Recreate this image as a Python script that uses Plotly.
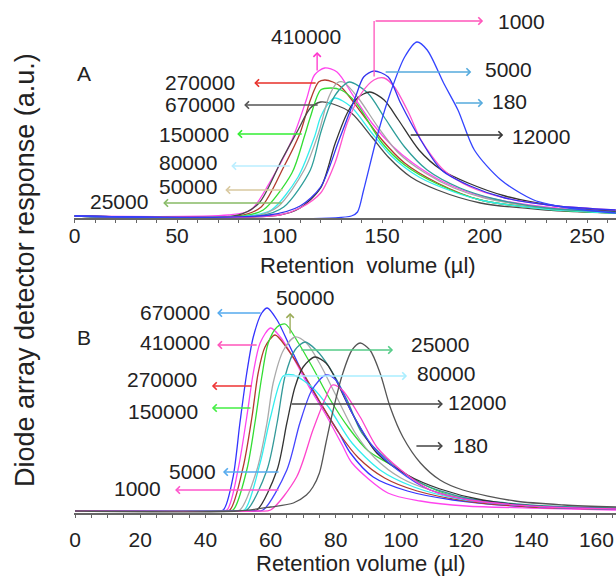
import plotly.graph_objects as go

# ---------------- Panel A data (retention volume in µl, response a.u.) ----------------
A_names = ["410000", "270000", "670000", "150000", "80000", "50000", "25000",
           "12000", "1000", "5000", "180"]
A_colors = ["#FF44EE", "#B23A2E", "#4A4A4A", "#33DD33", "#33EEEE", "#A8A8A8", "#2E9E9A",
            "#333333", "#FF55CC", "#3333EE", "#3344FF"]

A_x_410000 = [0, 75, 86, 95, 106, 113, 117, 122, 128, 136, 145, 155, 165, 180, 200, 230, 264]
A_y_410000 = [2, 3, 8, 35, 78, 118, 143, 150, 146, 122, 95, 72, 55, 36, 21, 11, 6]
A_x_270000 = [0, 80, 91, 102, 110, 115, 119, 122, 126, 130, 140, 150, 161, 177, 198, 230, 264]
A_y_270000 = [2, 2, 11, 51, 85, 118, 136, 138, 136, 131, 105, 78, 55, 35, 18, 9, 5]
A_x_670000 = [0, 80, 90, 101, 109, 115, 120, 126, 135, 145, 153, 164, 177, 198, 230, 264]
A_y_670000 = [2, 3, 15, 58, 88, 110, 116, 114, 105, 81, 61, 41, 28, 15, 8, 5]
A_x_150000 = [0, 82, 92, 106, 112, 115, 120, 125, 130, 137, 150, 161, 177, 198, 230, 264]
A_y_150000 = [2, 2, 8, 45, 81, 101, 128, 130, 128, 116, 75, 53, 34, 18, 9, 5]
A_x_80000 = [0, 85, 96, 109, 117, 120, 124, 127, 135, 145, 155, 168, 185, 200, 230, 264]
A_y_80000 = [2, 2, 8, 41, 81, 101, 115, 120, 111, 85, 61, 41, 26, 17, 9, 5]
A_x_50000 = [0, 88, 99, 112, 119, 124, 128, 131, 138, 148, 158, 171, 185, 200, 230, 264]
A_y_50000 = [2, 2, 11, 48, 85, 121, 135, 136, 121, 91, 65, 45, 30, 20, 10, 6]
A_x_25000 = [0, 90, 102, 115, 120, 125, 129, 134, 143, 151, 161, 172, 188, 205, 230, 264]
A_y_25000 = [2, 2, 11, 48, 85, 115, 128, 136, 125, 101, 71, 48, 30, 19, 10, 6]
A_x_12000 = [0, 100, 110, 120, 127, 133, 138, 144, 151, 158, 168, 179, 192, 210, 235, 264]
A_y_12000 = [2, 3, 10, 30, 74, 105, 120, 126, 118, 98, 68, 48, 35, 22, 12, 7]
A_x_1000 = [0, 100, 110, 120, 127, 133, 140, 146, 151, 156, 163, 169, 180, 193, 210, 235, 264]
A_y_1000 = [2, 3, 10, 25, 55, 95, 125, 138, 140, 131, 105, 78, 48, 31, 20, 12, 8]
A_x_5000 = [0, 95, 110, 120, 129, 137, 141, 146, 153, 159, 168, 179, 193, 210, 235, 264]
A_y_5000 = [2, 3, 12, 31, 78, 121, 141, 147, 141, 115, 81, 48, 32, 20, 12, 8]
A_x_180 = [0, 135, 138, 141, 148, 154, 161, 167, 172, 180, 187, 195, 208, 224, 241, 264]
A_y_180 = [2, 2, 6, 28, 85, 125, 161, 176, 168, 135, 108, 68, 38, 18, 10, 5]

A_x = [A_x_410000, A_x_270000, A_x_670000, A_x_150000, A_x_80000, A_x_50000, A_x_25000,
       A_x_12000, A_x_1000, A_x_5000, A_x_180]
A_y = [A_y_410000, A_y_270000, A_y_670000, A_y_150000, A_y_80000, A_y_50000, A_y_25000,
       A_y_12000, A_y_1000, A_y_5000, A_y_180]

# ---------------- Panel B data ----------------
B_names = ["670000", "410000", "270000", "150000", "50000", "25000", "80000",
           "12000", "5000", "1000", "180"]
B_colors = ["#3333FF", "#FF44EE", "#B23A2E", "#33DD33", "#AAAAAA", "#339999", "#33EEEE",
            "#333333", "#4444FF", "#FF44CC", "#555555"]

B_x_670000 = [0, 42, 45.5, 48.5, 50.6, 52.7, 54.7, 57.3, 59, 62, 66, 71, 76, 81, 84.5, 91.5, 102, 116, 140, 166]
B_y_670000 = [2, 2, 3, 36, 90, 140, 176, 200, 205, 193, 166, 133, 106, 80, 60, 36, 22, 13, 6, 4]
B_x_410000 = [0, 43, 46.6, 50, 52.7, 54.7, 56.8, 60, 63, 67, 72, 77, 82, 85, 96, 106, 120, 140, 166]
B_y_410000 = [2, 2, 3, 43, 96, 140, 170, 185, 176, 155, 125, 98, 68, 50, 20, 12, 7, 5, 3]
B_x_270000 = [0, 44, 47.5, 51.6, 54.3, 56.2, 58.3, 61.4, 65, 70, 75, 81, 87, 95, 105, 120, 140, 166]
B_y_270000 = [2, 2, 3, 46, 96, 140, 166, 178, 165, 140, 112, 80, 55, 35, 22, 12, 6, 4]
B_x_150000 = [0, 45, 48.5, 52.7, 55.2, 57.3, 59.3, 62, 64.5, 68, 73, 78, 84, 90, 96, 106, 116, 140, 166]
B_y_150000 = [2, 2, 3, 43, 90, 136, 170, 186, 189, 173, 145, 115, 85, 62, 50, 30, 17, 7, 4]
B_x_50000 = [0, 47, 50.6, 55.8, 58.9, 60.8, 64, 67.5, 71, 75, 80, 86, 92, 100, 110, 125, 145, 166]
B_y_50000 = [2, 2, 3, 43, 90, 130, 163, 176, 170, 150, 118, 80, 55, 35, 22, 12, 6, 4]
B_x_25000 = [0, 49, 52.7, 58.9, 62, 64.4, 67.5, 70.6, 74, 78, 83.5, 88, 96, 106, 120, 145, 166]
B_y_25000 = [2, 2, 3, 43, 90, 136, 163, 171, 163, 146, 113, 80, 53, 30, 15, 7, 5]
B_x_80000 = [0, 48, 52, 56.8, 60, 63.9, 67, 73, 78, 85, 93.6, 104, 118, 145, 166]
B_y_80000 = [2, 2, 3, 50, 96, 137, 138, 125, 105, 70, 43, 26, 14, 6, 4]
B_x_12000 = [0, 52, 55.8, 62, 65, 67.5, 70, 73.6, 77, 79, 85, 92.6, 102, 112, 125, 145, 166]
B_y_12000 = [2, 2, 3, 43, 90, 126, 146, 156, 150, 140, 100, 60, 38, 24, 13, 6, 4]
B_x_5000 = [0, 54, 57.7, 65, 69, 72.7, 77, 80, 85, 91.5, 99, 109, 121, 145, 166]
B_y_5000 = [2, 2, 3, 43, 90, 123, 138, 133, 100, 66, 43, 23, 13, 6, 4]
B_x_1000 = [0, 56, 60, 68, 73, 77, 79, 82, 87.5, 92.6, 100, 109, 121, 145, 166]
B_y_1000 = [2, 2, 3, 36, 83, 116, 128, 123, 96, 66, 43, 23, 13, 6, 4]
B_x_180 = [0, 50, 60, 67, 71, 73, 75, 77, 79, 82, 85, 87.5, 90.5, 93.6, 96.7, 100.6, 106, 112, 119, 135, 150, 166]
B_y_180 = [2, 2, 6, 10, 18, 26, 40, 70, 100, 138, 163, 170, 163, 140, 106, 76, 50, 33, 23, 12, 8, 6]

B_x = [B_x_670000, B_x_410000, B_x_270000, B_x_150000, B_x_50000, B_x_25000, B_x_80000,
       B_x_12000, B_x_5000, B_x_1000, B_x_180]
B_y = [B_y_670000, B_y_410000, B_y_270000, B_y_150000, B_y_50000, B_y_25000, B_y_80000,
       B_y_12000, B_y_5000, B_y_1000, B_y_180]

A_ticks = [0, 50, 100, 150, 200, 250]
B_ticks = [0, 20, 40, 60, 80, 100, 120, 140, 160]

# label annotations: (text, text_x, text_y, head_x, head_y, tail_x, tail_y, arrow colour)
A_labels = [
    ("410000", 112.9, 181, 118.3, 166, 118.3, 146, "#FF33CC"),
    ("270000", 61.3, 135, 87.6, 135, 118.3, 135, "#E8302A"),
    ("670000", 61.3, 113, 82.7, 113, 119.3, 113, "#555555"),
    ("150000", 58.3, 83, 79.3, 84, 111.5, 84, "#33EE33"),
    ("80000", 55.4, 55, 76.4, 52, 105.7, 52, "#BBEEFF"),
    ("50000", 55.4, 31, 73.5, 28, 102.2, 28, "#D9C9A0"),
    ("25000", 21.7, 16, 43.2, 15, 101.8, 15, "#88BB66"),
    ("1000", 217.9, 196, 199.3, 197, 146.1, 197, "#FF55BB"),
    ("5000", 211.5, 148, 193.5, 146, 151.0, 146, "#55AADD"),
    ("180", 212.0, 116, 199.3, 115, 185.2, 115, "#55AADD"),
    ("12000", 227.6, 81, 209.1, 83, 163.2, 83, "#333333"),
]
B_labels = [
    ("670000", 30.7, 200, 43.6, 200, 57.4, 200, "#55AAEE"),
    ("50000", 70.6, 215, 66.0, 200, 66.0, 178, "#99AA55"),
    ("410000", 30.7, 170, 43.6, 168, 56.2, 168, "#FF55BB"),
    ("270000", 26.7, 133, 42.0, 127, 54.6, 127, "#EE3333"),
    ("150000", 27.0, 101, 42.0, 105, 54.3, 105, "#44EE44"),
    ("5000", 36.2, 41, 45.4, 41, 62.9, 41, "#55AAEE"),
    ("1000", 19.3, 24, 30.7, 23, 62.9, 23, "#FF55CC"),
    ("25000", 112.0, 168, 97.6, 163, 69.0, 163, "#55CC88"),
    ("80000", 113.8, 139, 101.9, 137, 63.8, 137, "#AAEEFF"),
    ("12000", 123.4, 110, 112.9, 109, 66.0, 109, "#444444"),
    ("180", 121.2, 67, 112.9, 67, 104.3, 67, "#444444"),
]
# extra plain segment (elbow of the "1000" arrow in panel A)
A_segments = [(146.1, 140, 146.1, 197, "#FF55BB")]

FONT = "Liberation Sans, Arial, sans-serif"
W, H = 616, 577
ML = 74
LABEL_SIZE = 21

fig = go.Figure()
for xs, ys, c, n in zip(A_x, A_y, A_colors, A_names):
    fig.add_trace(go.Scatter(x=xs, y=ys, mode="lines", name=n, xaxis="x", yaxis="y",
                             line=dict(color=c, width=1.3, shape="spline", smoothing=0.8)))
for xs, ys, c, n in zip(B_x, B_y, B_colors, B_names):
    fig.add_trace(go.Scatter(x=xs, y=ys, mode="lines", name=n, xaxis="x2", yaxis="y2",
                             line=dict(color=c, width=1.3, shape="spline", smoothing=0.8)))

ann = []
def arrow(xr, yr, hx, hy, tx, ty, col, head=4):
    ann.append(dict(xref=xr, yref=yr, axref=xr, ayref=yr, x=hx, y=hy, ax=tx, ay=ty,
                    text="", showarrow=True, arrowhead=head, arrowsize=1.1,
                    arrowwidth=1.3, arrowcolor=col, standoff=0, startstandoff=0))

for (t, tx, ty, hx, hy, sx, sy, col) in A_labels:
    ann.append(dict(xref="x", yref="y", x=tx, y=ty, text=t, showarrow=False,
                    xanchor="center", yanchor="middle",
                    font=dict(family=FONT, size=LABEL_SIZE, color="#222222")))
    arrow("x", "y", hx, hy, sx, sy, col)
for (x0, y0, x1, y1, col) in A_segments:
    arrow("x", "y", x1, y1, x0, y0, col, head=0)
for (t, tx, ty, hx, hy, sx, sy, col) in B_labels:
    ann.append(dict(xref="x2", yref="y2", x=tx, y=ty, text=t, showarrow=False,
                    xanchor="center", yanchor="middle",
                    font=dict(family=FONT, size=LABEL_SIZE, color="#222222")))
    arrow("x2", "y2", hx, hy, sx, sy, col)

def px2paper(px, py):
    return (px - ML) / (W - ML), (H - py) / H

for txt, px, py, sz in [("A", 84, 73, 21), ("B", 84, 337, 21),
                        ("Retention  volume (µl)", 368, 265, 22),
                        ("Retention volume (µl)", 361, 563, 22)]:
    x, y = px2paper(px, py)
    ann.append(dict(xref="paper", yref="paper", x=x, y=y, text=txt, showarrow=False,
                    xanchor="center", yanchor="middle",
                    font=dict(family=FONT, size=sz, color="#222222")))
x, y = px2paper(25, 270)
ann.append(dict(xref="paper", yref="paper", x=x, y=y, text="Diode array detector response (a.u.)",
                textangle=-90, showarrow=False, xanchor="center", yanchor="middle",
                font=dict(family=FONT, size=27, color="#222222")))

xcommon = dict(showline=True, linecolor="#666666", linewidth=1.5, showgrid=False, zeroline=False,
               ticks="outside", ticklen=3, tickcolor="#666666", tickwidth=1,
               tickfont=dict(family=FONT, size=21, color="#222222"))
ycommon = dict(visible=False, showgrid=False, zeroline=False, fixedrange=True)

fig.update_layout(
    width=W, height=H, margin=dict(l=ML, r=0, t=0, b=0),
    paper_bgcolor="white", plot_bgcolor="white", showlegend=False,
    xaxis=dict(domain=[0, 1], anchor="y", range=[-0.3, 264.1], tickvals=A_ticks,
               ticklabelstandoff=-5,
               minor=dict(dtick=10, ticklen=3, ticks="outside", tickcolor="#666666"), **xcommon),
    yaxis=dict(domain=[(H - 218) / H, (H - 18) / H], anchor="x", range=[0, 200], **ycommon),
    xaxis2=dict(domain=[0, 1], anchor="y2", range=[-0.31, 166.0], tickvals=B_ticks,
                ticklabelstandoff=4,
                minor=dict(dtick=5, ticklen=3, ticks="outside", tickcolor="#666666"), **xcommon),
    yaxis2=dict(domain=[(H - 513) / H, (H - 293) / H], anchor="x2", range=[0, 220], **ycommon),
    annotations=ann,
)

fig.write_html("out.html")
